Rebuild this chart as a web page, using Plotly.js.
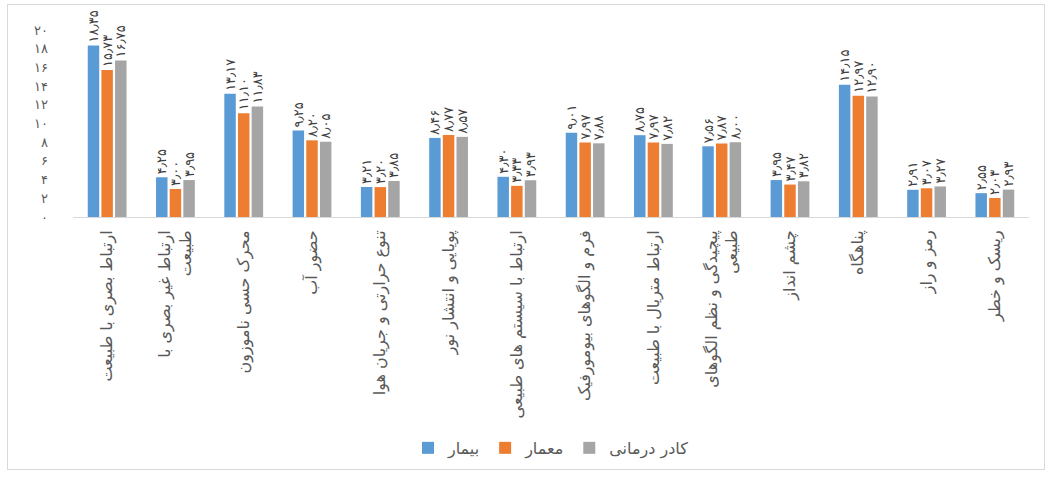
<!DOCTYPE html>
<html>
<head>
<meta charset="utf-8">
<script src="https://cdn.plot.ly/plotly-3.0.1.min.js"></script>
<style>
  html, body { margin: 0; padding: 0; background: #fff; }
  #wrap { position: relative; width: 1049px; height: 479px; }
  #chart { position: absolute; left: 0; top: 0; width: 1049px; height: 479px; }
  #frame { position: absolute; left: 7px; top: 4px; width: 1036px; height: 464px; border: 1px solid #d9d9d9; pointer-events: none; }
</style>
</head>
<body>
<div id="wrap"><div id="chart"></div><div id="frame"></div></div>
<script>
const categories = [
  "ارتباط بصری با طبیعت",
  "ارتباط غیر بصری با<br>طبیعت",
  "محرک حسی ناموزون",
  "حضور آب",
  "تنوع حرارتی و جریان هوا",
  "پویایی و انتشار نور",
  "ارتباط با سیستم های طبیعی",
  "فرم و الگوهای بیومورفیک",
  "ارتباط متریال با طبیعت",
  "پیچیدگی و نظم الگوهای<br>طبیعی",
  "چشم انداز",
  "پناهگاه",
  "رمز و راز",
  "ریسک و خطر"
];
const seriesNames = ["بیمار", "معمار", "کادر درمانی"];
const patient   = [18.35, 4.25, 13.17, 9.25, 3.21, 8.46, 4.30, 9.01, 8.75, 7.56, 3.95, 14.15, 2.91, 2.55];
const architect = [15.73, 3.00, 11.10, 8.20, 3.20, 8.77, 3.33, 7.97, 7.97, 7.87, 3.47, 12.97, 3.07, 2.03];
const staff     = [16.75, 3.95, 11.83, 8.05, 3.85, 8.57, 3.93, 7.88, 7.82, 8.00, 3.82, 12.90, 3.27, 2.93];
const yTicks = [0, 2, 4, 6, 8, 10, 12, 14, 16, 18, 20];

const faDigits = "۰۱۲۳۴۵۶۷۸۹";
function toFa(s) { return String(s).replace(/[0-9]/g, d => faDigits[+d]).replace(".", "٫"); }

const colors = ["#5B9BD5", "#ED7D31", "#A5A5A5"];
const FONT = "DejaVu Sans, sans-serif";
const allSeries = [patient, architect, staff];

const traces = allSeries.map((vals, i) => ({
  type: "bar",
  name: seriesNames[i],
  x: categories,
  y: vals,
  marker: { color: colors[i] },
  text: vals.map(v => toFa(v.toFixed(2))),
  textposition: "outside",
  textangle: -90,
  constraintext: "none",
  cliponaxis: false,
  textfont: { family: FONT, size: 13, color: "#404040" },
  hoverinfo: "none"
}));

const layout = {
  width: 1049,
  height: 479,
  margin: { l: 73, r: 20, t: 30, b: 262 },
  paper_bgcolor: "rgba(0,0,0,0)",
  plot_bgcolor: "#ffffff",
  barmode: "group",
  bargap: 0.4,
  bargroupgap: 0.16,
  font: { family: FONT, color: "#595959" },
  xaxis: {
    tickangle: -90,
    showline: true,
    linecolor: "#d9d9d9",
    linewidth: 1,
    ticks: "",
    showgrid: false,
    tickfont: { family: FONT, size: 16, color: "#595959" },
    ticklabelstandoff: 6
  },
  yaxis: {
    range: [0, 20],
    tickvals: yTicks,
    ticktext: yTicks.map(v => toFa(v)),
    showgrid: false,
    zeroline: false,
    showline: false,
    ticks: "",
    tickfont: { family: FONT, size: 13, color: "#595959" },
    ticklabelstandoff: 24
  },
  showlegend: true,
  legend: {
    orientation: "h",
    x: 0.5,
    xanchor: "center",
    y: -1.235,
    yanchor: "middle",
    font: { family: FONT, size: 16, color: "#595959" },
    itemwidth: 30,
    traceorder: "normal"
  }
};

Plotly.newPlot("chart", traces, layout, { displayModeBar: false, staticPlot: true });
</script>
</body>
</html>
